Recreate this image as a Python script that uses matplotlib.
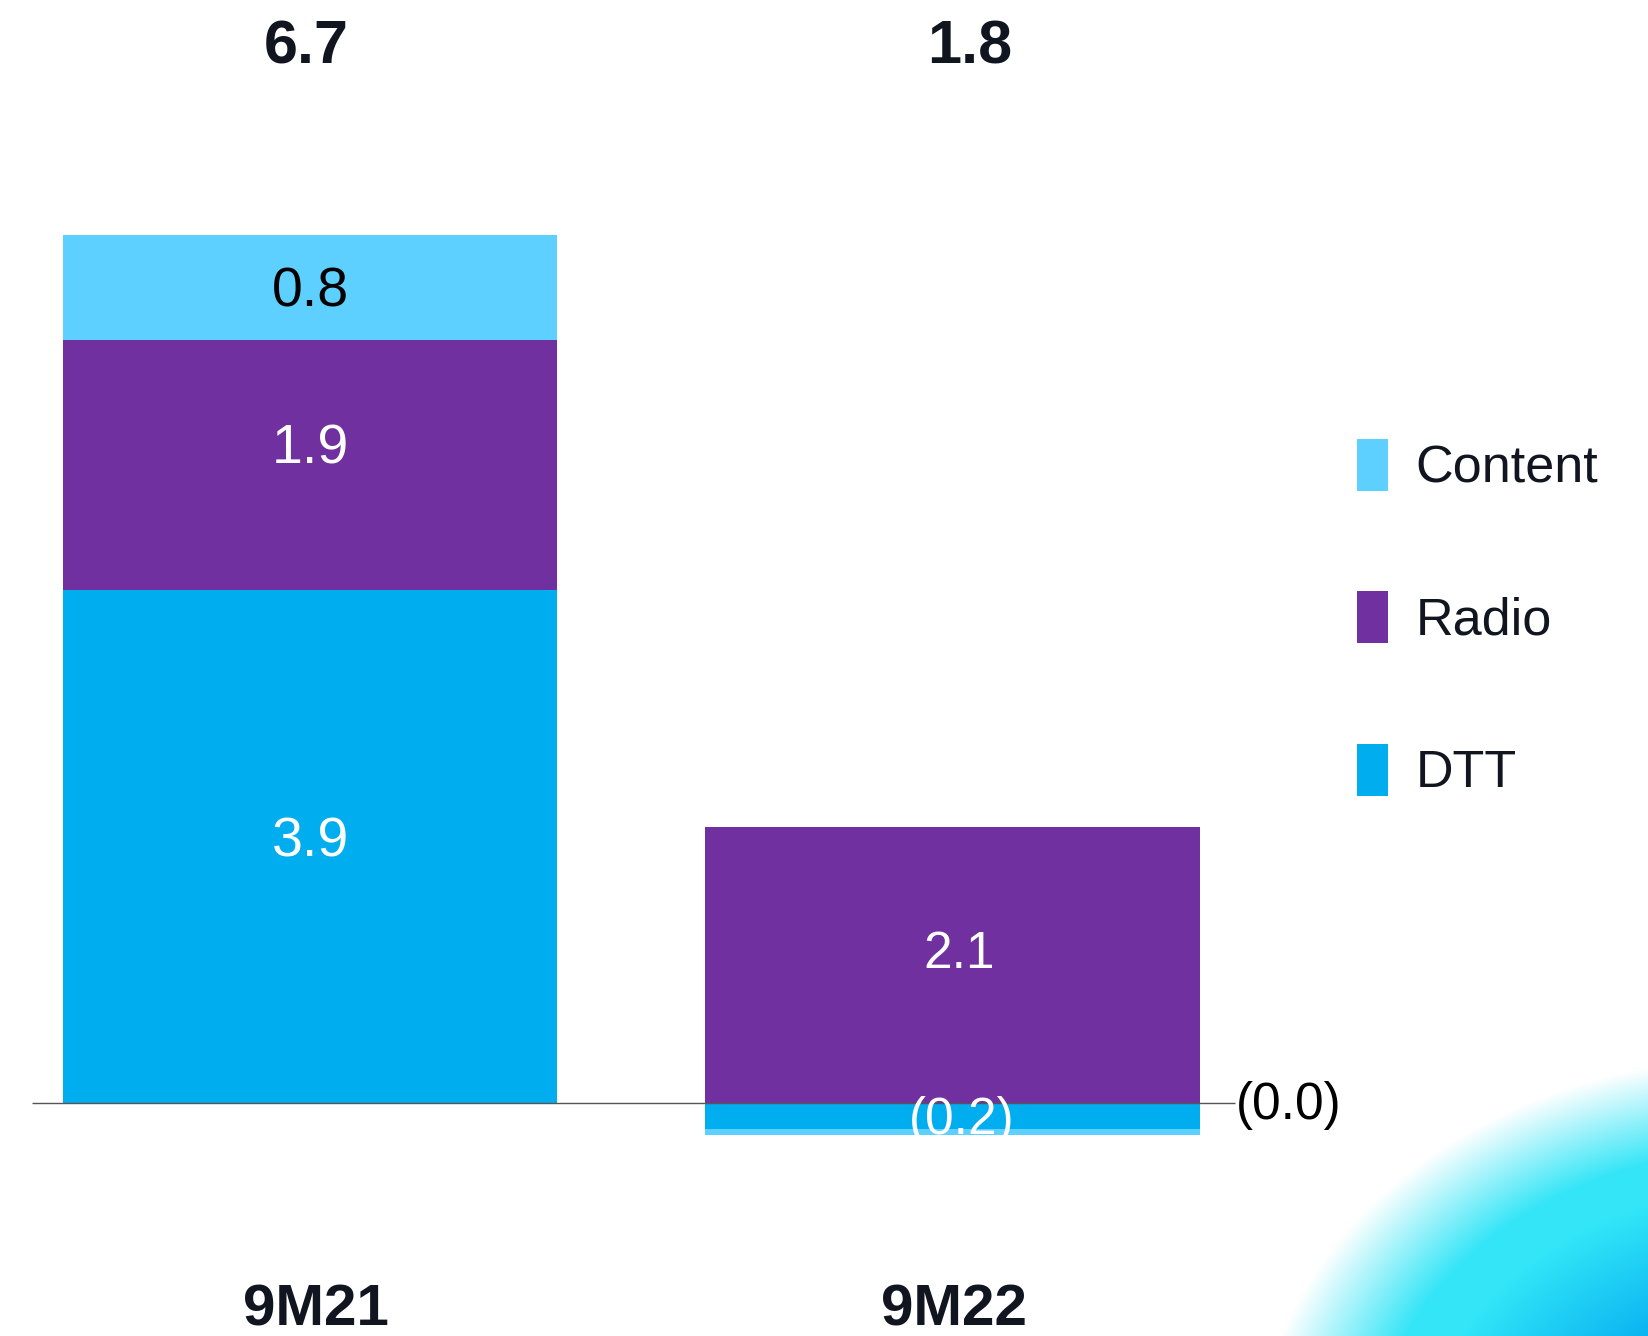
import numpy as np
import matplotlib
matplotlib.use("Agg")
import matplotlib.pyplot as plt
from matplotlib.patches import Rectangle

plt.rcParams['font.family'] = ['Liberation Sans', 'DejaVu Sans']

periods = ['9M21', '9M22']
totals = ['6.7', '1.8']
dtt = [3.9, -0.2]
radio = [1.9, 2.1]
content = [0.8, -0.04]
dtt_labels = ['3.9', '(0.2)']
radio_labels = ['1.9', '2.1']
content_labels = ['0.8', '(0.0)']

c_content = '#5DD0FF'
c_radio = '#7030A0'
c_dtt = '#00AEEF'
navy = '#10151F'

W, H = 1648, 1336
fig = plt.figure(figsize=(W / 100, H / 100), dpi=100)

# soft cyan glow in the lower right corner
yy, xx = np.mgrid[0:H, 0:W]
r = np.sqrt(((xx - 1760) / 450.0) ** 2 + ((yy - 1460) / 360.0) ** 2)
alpha = np.clip((1.12 - r) / 0.26, 0, 1)
t = np.clip((0.75 - r) / 0.4, 0, 1)[..., None]
cyan = np.array([0.20, 0.90, 0.97])
blue = np.array([0.0, 0.66, 0.94])
rgb = cyan * (1 - t) + blue * t
glow = np.dstack([rgb, alpha[..., None]])
fig.figimage(glow, xo=0, yo=0, origin='upper', zorder=0)

ax = fig.add_axes([0, 0, 1, 1])
ax.set_facecolor('none')
s = 131.5
ax.set_ylim(-233 / s, 1103 / s)
ax.set_xlim(-310 / 642.5, (W - 310) / 642.5)
ax.axis('off')

x = np.arange(len(periods))
w = 0.77

# positive parts stack upward, negative parts stack downward
pos_base = np.zeros(2)
neg_base = np.zeros(2)
bars = {}
for name, vals, col in [('DTT', dtt, c_dtt), ('Radio', radio, c_radio), ('Content', content, c_content)]:
    vals = np.array(vals)
    base = np.where(vals >= 0, pos_base, neg_base)
    bars[name] = ax.bar(x, vals, w, bottom=base, color=col, linewidth=0, label=name, zorder=2)
    pos_base = pos_base + np.where(vals >= 0, vals, 0)
    neg_base = neg_base + np.where(vals < 0, vals, 0)

ax.hlines(0, -0.433, 1.44, color='#555555', lw=1.0, zorder=3)

def mid(b):
    return b.get_x() + w / 2, b.get_y() + b.get_height() / 2

# segment labels
bx, by = mid(bars['DTT'][0])
ax.text(bx, by + 0.03, dtt_labels[0], ha='center', va='center', color='white', fontsize=40, zorder=4)
bx, by = mid(bars['DTT'][1])
neg = ax.text(bx + 0.015, by - 0.03, dtt_labels[1], ha='center', va='center', color='white',
              fontsize=37, zorder=4)
# the negative label is cut at the bottom of its bar
clip = Rectangle((bx - w / 2, neg_base[1]), w, 3, transform=ax.transData)
neg.set_clip_path(clip)

bx, by = mid(bars['Radio'][0])
ax.text(bx, by + 0.12, radio_labels[0], ha='center', va='center', color='white', fontsize=40, zorder=4)
bx, by = mid(bars['Radio'][1])
ax.text(bx + 0.01, by + 0.08, radio_labels[1], ha='center', va='center', color='white', fontsize=37, zorder=4)

bx, by = mid(bars['Content'][0])
ax.text(bx, by - 0.04, content_labels[0], ha='center', va='center', color='black', fontsize=40, zorder=4)
ax.text(1.441, -0.02, content_labels[1], ha='left', va='center', color='black', fontsize=37, zorder=4)

# totals above and period names below
tot_dx = [-0.006, 0.026]
cat_dx = [0.01, 0.003]
for i in x:
    ax.text(i + tot_dx[i], 8.02, totals[i], ha='center', va='center', fontsize=44, fontweight='bold', color=navy)
    ax.text(i + cat_dx[i], -1.575, periods[i], ha='center', va='center', fontsize=42, fontweight='bold', color=navy)

handles = [bars['Content'], bars['Radio'], bars['DTT']]
leg = fig.legend(handles, ['Content', 'Radio', 'DTT'], loc='upper left',
                 bbox_to_anchor=(1357 / W, 1 - 439 / H), frameon=False,
                 fontsize=37.5, handlelength=0.6, handleheight=1.15,
                 handletextpad=0.52, labelspacing=1.88, borderpad=0, borderaxespad=0)
for txt in leg.get_texts():
    txt.set_color(navy)

fig.savefig('out.png', dpi=100)
